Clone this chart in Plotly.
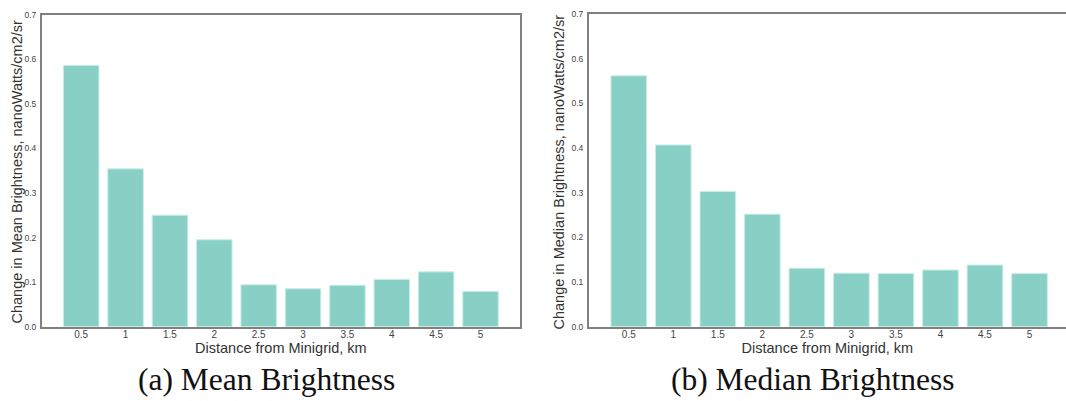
import plotly.graph_objects as go

distances = ["0.5", "1", "1.5", "2", "2.5", "3", "3.5", "4", "4.5", "5"]
mean_change = [0.586, 0.354, 0.250, 0.195, 0.094, 0.085, 0.093, 0.106, 0.123, 0.079]
median_change = [0.562, 0.407, 0.303, 0.252, 0.131, 0.120, 0.119, 0.127, 0.138, 0.119]
y_ticks = [0.0, 0.1, 0.2, 0.3, 0.4, 0.5, 0.6, 0.7]
y_tick_text = ["0.0", "0.1", "0.2", "0.3", "0.4", "0.5", "0.6", "0.7"]

BAR = "#88d0c6"
FRAME = "#808080"
XTICKF = dict(family="Liberation Sans, Arial, sans-serif", size=10, color="#444444")
YTICKF = dict(family="Liberation Sans, Arial, sans-serif", size=8.5, color="#444444")
TITLEF = dict(family="Liberation Sans, Arial, sans-serif", size=14.5, color="#333333")

fig = go.Figure()
fig.add_trace(go.Bar(x=distances, y=mean_change, marker=dict(color=BAR, line=dict(color="#c9ece7", width=1)),
                     xaxis="x", yaxis="y", showlegend=False))
fig.add_trace(go.Bar(x=distances, y=median_change, marker=dict(color=BAR, line=dict(color="#c9ece7", width=1)),
                     xaxis="x2", yaxis="y2", showlegend=False))

W, H = 1066, 401
def fx(p): return p / W
def fy(p): return 1 - p / H

common_x = dict(type="category", showgrid=False, zeroline=False, showline=True, linecolor=FRAME, linewidth=1.5,
                ticks="", ticklen=0, tickfont=XTICKF, automargin=False,
                title=dict(text="Distance from Minigrid, km", font=TITLEF, standoff=0),
                ticklabelstandoff=-2)
common_y = dict(range=[0, 0.7], tickvals=y_ticks, ticktext=y_tick_text, showgrid=False, zeroline=False,
                showline=True, linecolor=FRAME, linewidth=1.5, ticks="", ticklen=0, tickfont=YTICKF,
                ticklabelstandoff=2, automargin=False)

fig.update_layout(
    width=W, height=H, margin=dict(l=0, r=0, t=0, b=0),
    paper_bgcolor="white", plot_bgcolor="white", bargap=0.2,
    xaxis=dict(common_x, domain=[fx(41.7), fx(520)], range=[-0.89, 9.89], anchor="y", mirror=True),
    yaxis=dict(common_y, domain=[fy(326.7), fy(14.6)], anchor="x", mirror=True),
    xaxis2=dict(common_x, domain=[fx(588.7), 1.0], range=[-0.90, 9.82], anchor="y2", mirror=True),
    yaxis2=dict(common_y, domain=[fy(326.7), fy(14.2)], anchor="x2", mirror=False),
    annotations=[
        dict(text="Change in Mean Brightness, nanoWatts/cm2/sr", x=fx(16.5), y=fy(172), xref="paper", yref="paper",
             showarrow=False, xanchor="center", yanchor="middle", textangle=-90, font=TITLEF),
        dict(text="Change in Median Brightness, nanoWatts/cm2/sr", x=fx(558.5), y=fy(172), xref="paper", yref="paper",
             showarrow=False, xanchor="center", yanchor="middle", textangle=-90, font=TITLEF),
        dict(text="(a) Mean Brightness", x=fx(266), y=fy(379), xref="paper", yref="paper",
             showarrow=False, xanchor="center", yanchor="middle",
             font=dict(family="Liberation Serif, DejaVu Serif, serif", size=31.5, color="#111111")),
        dict(text="(b) Median Brightness", x=fx(812.7), y=fy(379), xref="paper", yref="paper",
             showarrow=False, xanchor="center", yanchor="middle",
             font=dict(family="Liberation Serif, DejaVu Serif, serif", size=31.5, color="#111111")),
    ],
)

fig.write_html("out.html")
